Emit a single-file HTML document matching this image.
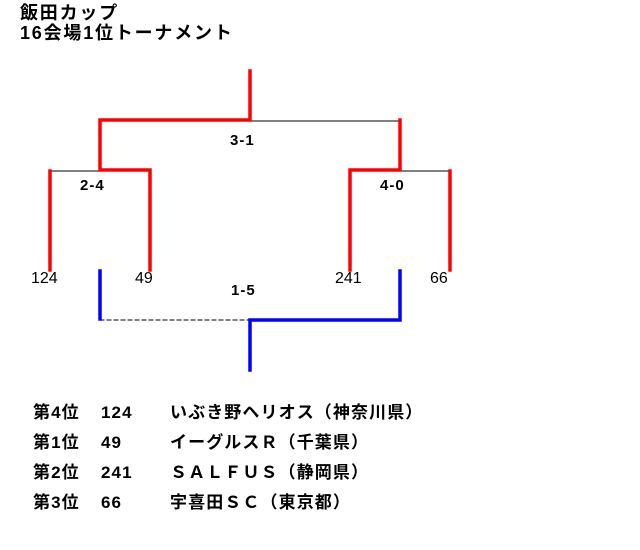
<!DOCTYPE html>
<html><head><meta charset="utf-8"><style>
html,body{margin:0;padding:0;background:#fff;width:640px;height:550px;overflow:hidden}
body{position:relative;font-family:"Liberation Sans","Noto Sans CJK JP",sans-serif;color:#000}
.t{position:absolute;font-size:18px;font-weight:bold;line-height:18px;white-space:nowrap;letter-spacing:1.8px}
.n{position:absolute;font-size:16px;line-height:16px;white-space:nowrap}
.s{position:absolute;font-size:15px;font-weight:bold;line-height:15px;letter-spacing:1px}
.r{position:absolute;font-size:17px;font-weight:bold;line-height:18px;white-space:nowrap;letter-spacing:1.1px}
</style></head><body>
<div class="t" style="left:20px;top:4px">飯田カップ</div>
<div class="t" style="left:20px;top:24px">16会場1位トーナメント</div>
<svg width="640" height="550" style="position:absolute;left:0;top:0">
<g fill="none" stroke-linecap="square">
<line x1="250" y1="121" x2="400" y2="121" stroke="#000" stroke-width="1"/>
<line x1="50" y1="171" x2="100" y2="171" stroke="#000" stroke-width="1"/>
<line x1="400" y1="171" x2="450" y2="171" stroke="#000" stroke-width="1"/>
<line x1="100" y1="320" x2="250" y2="320" stroke="#000" stroke-width="1" stroke-dasharray="4,3"/>
<g stroke="#f00" stroke-width="3.5">
<polyline points="250,71 250,120 100,120 100,170 150,170 150,270"/>
<polyline points="400,120 400,170 350,170 350,270"/>
<line x1="50" y1="171" x2="50" y2="270"/>
<line x1="450" y1="171" x2="450" y2="270"/>
</g>
<g stroke="#00f" stroke-width="3.5">
<line x1="100" y1="271" x2="100" y2="319"/>
<polyline points="400,271 400,320 250,320 250,370"/>
</g>
</g>
</svg>
<div class="s" style="left:230px;top:133px">3-1</div>
<div class="s" style="left:80px;top:178px">2-4</div>
<div class="s" style="left:380px;top:178px">4-0</div>
<div class="s" style="left:231px;top:283px">1-5</div>
<div class="n" style="left:31px;top:271px">124</div>
<div class="n" style="left:135px;top:271px">49</div>
<div class="n" style="left:335px;top:271px">241</div>
<div class="n" style="left:430px;top:271px">66</div>
<div class="r" style="left:33px;top:404px">第4位</div><div class="r" style="left:101px;top:404px">124</div><div class="r" style="left:170px;top:404px">いぶき野ヘリオス（神奈川県）</div>
<div class="r" style="left:33px;top:434px">第1位</div><div class="r" style="left:101px;top:434px">49</div><div class="r" style="left:170px;top:434px">イーグルスＲ（千葉県）</div>
<div class="r" style="left:33px;top:464px">第2位</div><div class="r" style="left:101px;top:464px">241</div><div class="r" style="left:170px;top:464px">ＳＡＬＦＵＳ（静岡県）</div>
<div class="r" style="left:33px;top:494px">第3位</div><div class="r" style="left:101px;top:494px">66</div><div class="r" style="left:170px;top:494px">宇喜田ＳＣ（東京都）</div>
</body></html>
